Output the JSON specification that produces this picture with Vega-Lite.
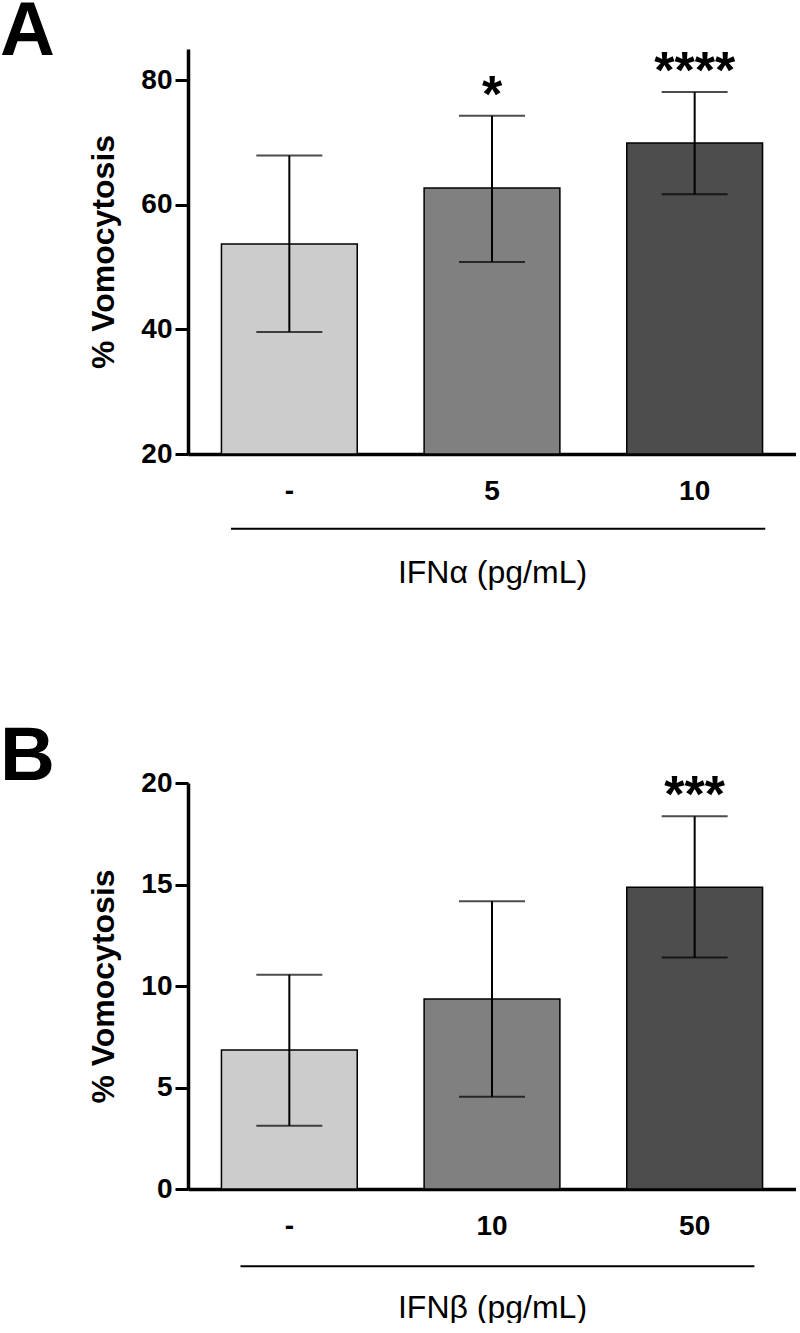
{
  "$schema": "https://vega.github.io/schema/vega-lite/v6.json",
  "background": "white",
  "padding": {"top": -7, "left": 0, "right": 0, "bottom": 0},
  "config": {
    "view": {"stroke": null},
    "font": "Liberation Sans",
    "axis": {"domainColor": "black", "tickColor": "black", "labelColor": "black", "titleColor": "black", "grid": false, "labelFont": "Liberation Sans", "titleFont": "Liberation Sans"},
    "axisY": {"domainWidth": 3.5, "tickWidth": 3, "tickSize": 13, "labelFontSize": 28, "labelFontWeight": "bold", "labelPadding": 3, "titleFontSize": 32, "titleFontWeight": "bold", "titlePadding": 20},
    "axisX": {"domainWidth": 3.5, "ticks": false, "tickSize": 0, "labelFontSize": 28, "labelFontWeight": "bold", "labelPadding": 23, "labelAngle": 0, "titleFontSize": 32, "titleFontWeight": "normal", "titlePadding": 52},
    "title": {"fontSize": 76, "fontWeight": "bold", "color": "black", "anchor": "start", "frame": "group", "baseline": "alphabetic", "dx": -188}
  },
  "spacing": 131,
  "vconcat": [
    {
      "title": {"text": "A", "offset": -25},
      "width": 608,
      "height": 405,
      "data": {"values": [
        {"dose": "-", "mean": 53.7, "lo": 39.6, "hi": 67.9, "star": ""},
        {"dose": "5", "mean": 62.7, "lo": 50.8, "hi": 74.3, "star": "*"},
        {"dose": "10", "mean": 69.9, "lo": 61.7, "hi": 78.1, "star": "****"}
      ]},
      "encoding": {
        "x": {"field": "dose", "type": "nominal", "sort": null, "scale": {"domain": ["-", "5", "10"], "paddingInner": 0.33, "paddingOuter": 0.165}, "axis": {"title": "IFNα (pg/mL)"}}
      },
      "layer": [
        {
          "mark": {"type": "bar", "stroke": "black", "strokeWidth": 1.5},
          "encoding": {
            "y": {"field": "mean", "type": "quantitative", "scale": {"domain": [20, 85], "zero": false, "nice": false}, "axis": {"values": [20, 40, 60, 80], "title": "% Vomocytosis"}},
            "y2": {"datum": 20},
            "color": {"field": "dose", "type": "nominal", "scale": {"domain": ["-", "5", "10"], "range": ["#cccccc", "#808080", "#4d4d4d"]}, "legend": null}
          }
        },
        {
          "mark": {"type": "rule", "color": "black", "strokeWidth": 2},
          "encoding": {"y": {"field": "lo", "type": "quantitative"}, "y2": {"field": "hi"}}
        },
        {
          "mark": {"type": "tick", "color": "black", "thickness": 2, "size": 66, "orient": "horizontal"},
          "encoding": {"y": {"field": "hi", "type": "quantitative"}}
        },
        {
          "mark": {"type": "tick", "color": "black", "thickness": 2, "size": 66, "orient": "horizontal"},
          "encoding": {"y": {"field": "lo", "type": "quantitative"}}
        },
        {
          "mark": {"type": "text", "fontSize": 52, "fontWeight": "bold", "baseline": "alphabetic", "dy": -4, "color": "black"},
          "encoding": {"y": {"field": "hi", "type": "quantitative"}, "text": {"field": "star"}}
        },
        {
          "data": {"values": [{"from": "-", "to": "10", "level": 8}]},
          "mark": {"type": "rule", "color": "black", "strokeWidth": 2},
          "encoding": {
            "x": {"field": "from", "type": "nominal", "bandPosition": 0.07},
            "x2": {"field": "to", "bandPosition": 1.02},
            "y": {"field": "level", "type": "quantitative"}
          }
        }
      ]
    },
    {
      "title": {"text": "B", "offset": -27},
      "width": 608,
      "height": 406,
      "data": {"values": [
        {"dose": "-", "mean": 6.85, "lo": 3.12, "hi": 10.56, "star": ""},
        {"dose": "10", "mean": 9.36, "lo": 4.55, "hi": 14.17, "star": ""},
        {"dose": "50", "mean": 14.86, "lo": 11.4, "hi": 18.36, "star": "***"}
      ]},
      "encoding": {
        "x": {"field": "dose", "type": "nominal", "sort": null, "scale": {"domain": ["-", "10", "50"], "paddingInner": 0.33, "paddingOuter": 0.165}, "axis": {"title": "IFNβ (pg/mL)"}}
      },
      "layer": [
        {
          "mark": {"type": "bar", "stroke": "black", "strokeWidth": 1.5},
          "encoding": {
            "y": {"field": "mean", "type": "quantitative", "scale": {"domain": [0, 20], "nice": false}, "axis": {"values": [0, 5, 10, 15, 20], "title": "% Vomocytosis"}},
            "y2": {"datum": 0},
            "color": {"field": "dose", "type": "nominal", "scale": {"domain": ["-", "10", "50"], "range": ["#cccccc", "#808080", "#4d4d4d"]}, "legend": null}
          }
        },
        {
          "mark": {"type": "rule", "color": "black", "strokeWidth": 2},
          "encoding": {"y": {"field": "lo", "type": "quantitative"}, "y2": {"field": "hi"}}
        },
        {
          "mark": {"type": "tick", "color": "black", "thickness": 2, "size": 66, "orient": "horizontal"},
          "encoding": {"y": {"field": "hi", "type": "quantitative"}}
        },
        {
          "mark": {"type": "tick", "color": "black", "thickness": 2, "size": 66, "orient": "horizontal"},
          "encoding": {"y": {"field": "lo", "type": "quantitative"}}
        },
        {
          "mark": {"type": "text", "fontSize": 52, "fontWeight": "bold", "baseline": "alphabetic", "dy": -4, "color": "black"},
          "encoding": {"y": {"field": "hi", "type": "quantitative"}, "text": {"field": "star"}}
        },
        {
          "data": {"values": [{"from": "-", "to": "50", "level": -3.8}]},
          "mark": {"type": "rule", "color": "black", "strokeWidth": 2},
          "encoding": {
            "x": {"field": "from", "type": "nominal", "bandPosition": 0.14},
            "x2": {"field": "to", "bandPosition": 0.94},
            "y": {"field": "level", "type": "quantitative"}
          }
        }
      ],
      "resolve": {"scale": {"color": "independent"}}
    }
  ],
  "resolve": {"scale": {"color": "independent"}}
}
